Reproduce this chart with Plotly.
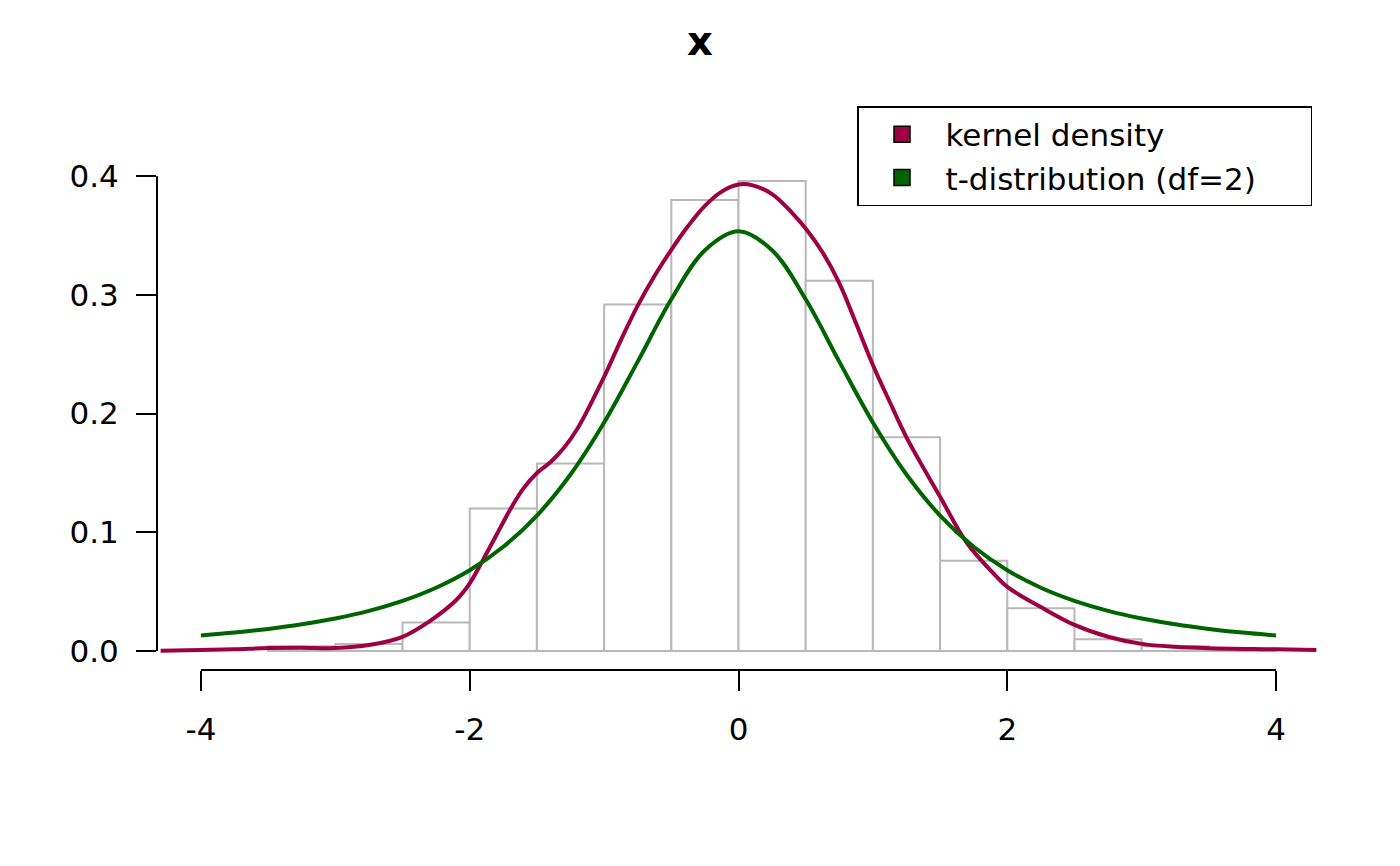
import plotly.graph_objects as go

# histogram (density scale, bin width 0.5)
bin_centers = [-3.25, -2.75, -2.25, -1.75, -1.25, -0.75, -0.25, 0.25,
               0.75, 1.25, 1.75, 2.25, 2.75, 3.25, 3.75]
bin_density = [0.004, 0.006, 0.024, 0.120, 0.158, 0.292, 0.380, 0.396,
               0.312, 0.180, 0.076, 0.036, 0.010, 0.004, 0.002]

# kernel density estimate
kde_x = [-4.3, -4.0, -3.75, -3.5, -3.25, -3.0, -2.75, -2.5, -2.3, -2.1, -2.0,
         -1.9, -1.8, -1.7, -1.6, -1.5, -1.4, -1.3, -1.2, -1.0, -0.875, -0.75,
         -0.625, -0.5, -0.375, -0.25, -0.125, 0.0, 0.1, 0.25, 0.4, 0.5, 0.625,
         0.75, 0.875, 1.0, 1.125, 1.25, 1.5, 1.7, 1.9, 2.0, 2.25, 2.5, 2.75,
         3.0, 3.25, 3.5, 4.0, 4.3]
kde_y = [0.0003, 0.0008, 0.0015, 0.0025, 0.0028, 0.0025, 0.005, 0.012, 0.025,
         0.043, 0.057, 0.077, 0.098, 0.119, 0.137, 0.150, 0.159, 0.171, 0.187,
         0.231, 0.262, 0.291, 0.316, 0.338, 0.358, 0.375, 0.387, 0.393, 0.3925,
         0.385, 0.369, 0.356, 0.336, 0.310, 0.276, 0.241, 0.210, 0.180, 0.130,
         0.091, 0.065, 0.054, 0.037, 0.022, 0.012, 0.006, 0.0035, 0.0023,
         0.0014, 0.0008]

# t-distribution (df=2) curve
t_x = [-4.0, -3.75, -3.5, -3.25, -3.0, -2.75, -2.5, -2.25, -2.0, -1.75, -1.5,
       -1.25, -1.0, -0.75, -0.5, -0.25, 0.0, 0.25, 0.5, 0.75, 1.0, 1.25, 1.5,
       1.75, 2.0, 2.25, 2.5, 2.75, 3.0, 3.25, 3.5, 3.75, 4.0]
t_y = [0.0131, 0.0155, 0.0186, 0.0225, 0.0274, 0.0338, 0.0422, 0.0533, 0.0680,
       0.0878, 0.1141, 0.1487, 0.1925, 0.2438, 0.2963, 0.3376, 0.3536, 0.3376,
       0.2963, 0.2438, 0.1925, 0.1487, 0.1141, 0.0878, 0.0680, 0.0533, 0.0422,
       0.0338, 0.0274, 0.0225, 0.0186, 0.0155, 0.0131]

x_ticks = [-4, -2, 0, 2, 4]
x_labels = ["-4", "-2", "0", "2", "4"]
y_ticks = [0.0, 0.1, 0.2, 0.3, 0.4]
y_labels = ["0.0", "0.1", "0.2", "0.3", "0.4"]

legend_names = ["kernel density", "t-distribution (df=2)"]

kde_col = "#9E0142"
t_col = "#006400"
font = "DejaVu Sans"

fig = go.Figure()

fig.add_trace(go.Bar(x=bin_centers, y=bin_density, width=0.5,
                     marker=dict(color="white", line=dict(color="#b8b8b8", width=2)),
                     showlegend=False, hoverinfo="skip"))

fig.add_trace(go.Scatter(x=kde_x, y=kde_y, mode="lines",
                         line=dict(color=kde_col, width=4, shape="spline", smoothing=1.0),
                         showlegend=False))
fig.add_trace(go.Scatter(x=t_x, y=t_y, mode="lines",
                         line=dict(color=t_col, width=4, shape="spline", smoothing=1.0),
                         showlegend=False))

# legend-only entries (filled boxes like base R legend(fill=...))
# trailing no-break spaces widen the box like R's legend does
for name, col in zip(legend_names, [kde_col, t_col]):
    fig.add_trace(go.Scatter(x=[None], y=[None], mode="markers",
                             name=name + "\u00a0" * 5,
                             marker=dict(symbol="square", size=16, color=col,
                                         line=dict(color="black", width=1.5))))

# axis lines only over the tick range, as base R does
fig.add_shape(type="line", xref="paper", yref="y", x0=0, x1=0, y0=0, y1=0.4,
              line=dict(color="black", width=2))
fig.add_shape(type="line", xref="x", yref="paper", x0=-4, x1=4, y0=0, y1=0,
              line=dict(color="black", width=2))

# the page body adds an 8px offset, so margins are trimmed by 8 on top/left
fig.update_layout(
    width=1400, height=866,
    margin=dict(l=149, r=88, t=154, b=204),
    plot_bgcolor="white", paper_bgcolor="white",
    barmode="overlay",
    font=dict(family=font, size=31, color="black"),
    title=dict(text="<b>x</b>", x=692 / 1400, xref="container", xanchor="center",
               y=1 - 33 / 866, yref="container", yanchor="middle",
               font=dict(size=40, family=font)),
    legend=dict(x=(857 - 157) / 1163, y=(670 - 106) / 508, xanchor="left", yanchor="top",
                bordercolor="black", borderwidth=1.5, bgcolor="white",
                font=dict(size=31, family=font), itemwidth=77, traceorder="normal",
                itemsizing="trace"),
)

fig.update_xaxes(range=[-4.327, 4.327], tickvals=x_ticks, ticktext=x_labels,
                 ticks="outside", ticklen=20, tickwidth=2, tickcolor="black",
                 showgrid=False, zeroline=False, showline=False, ticklabelstandoff=12)
fig.update_yaxes(range=[-0.016, 0.412], tickvals=y_ticks, ticktext=y_labels,
                 ticks="outside", ticklen=20, tickwidth=2, tickcolor="black",
                 showgrid=False, zeroline=False, showline=False, ticklabelstandoff=11)

fig.write_html("out.html")
